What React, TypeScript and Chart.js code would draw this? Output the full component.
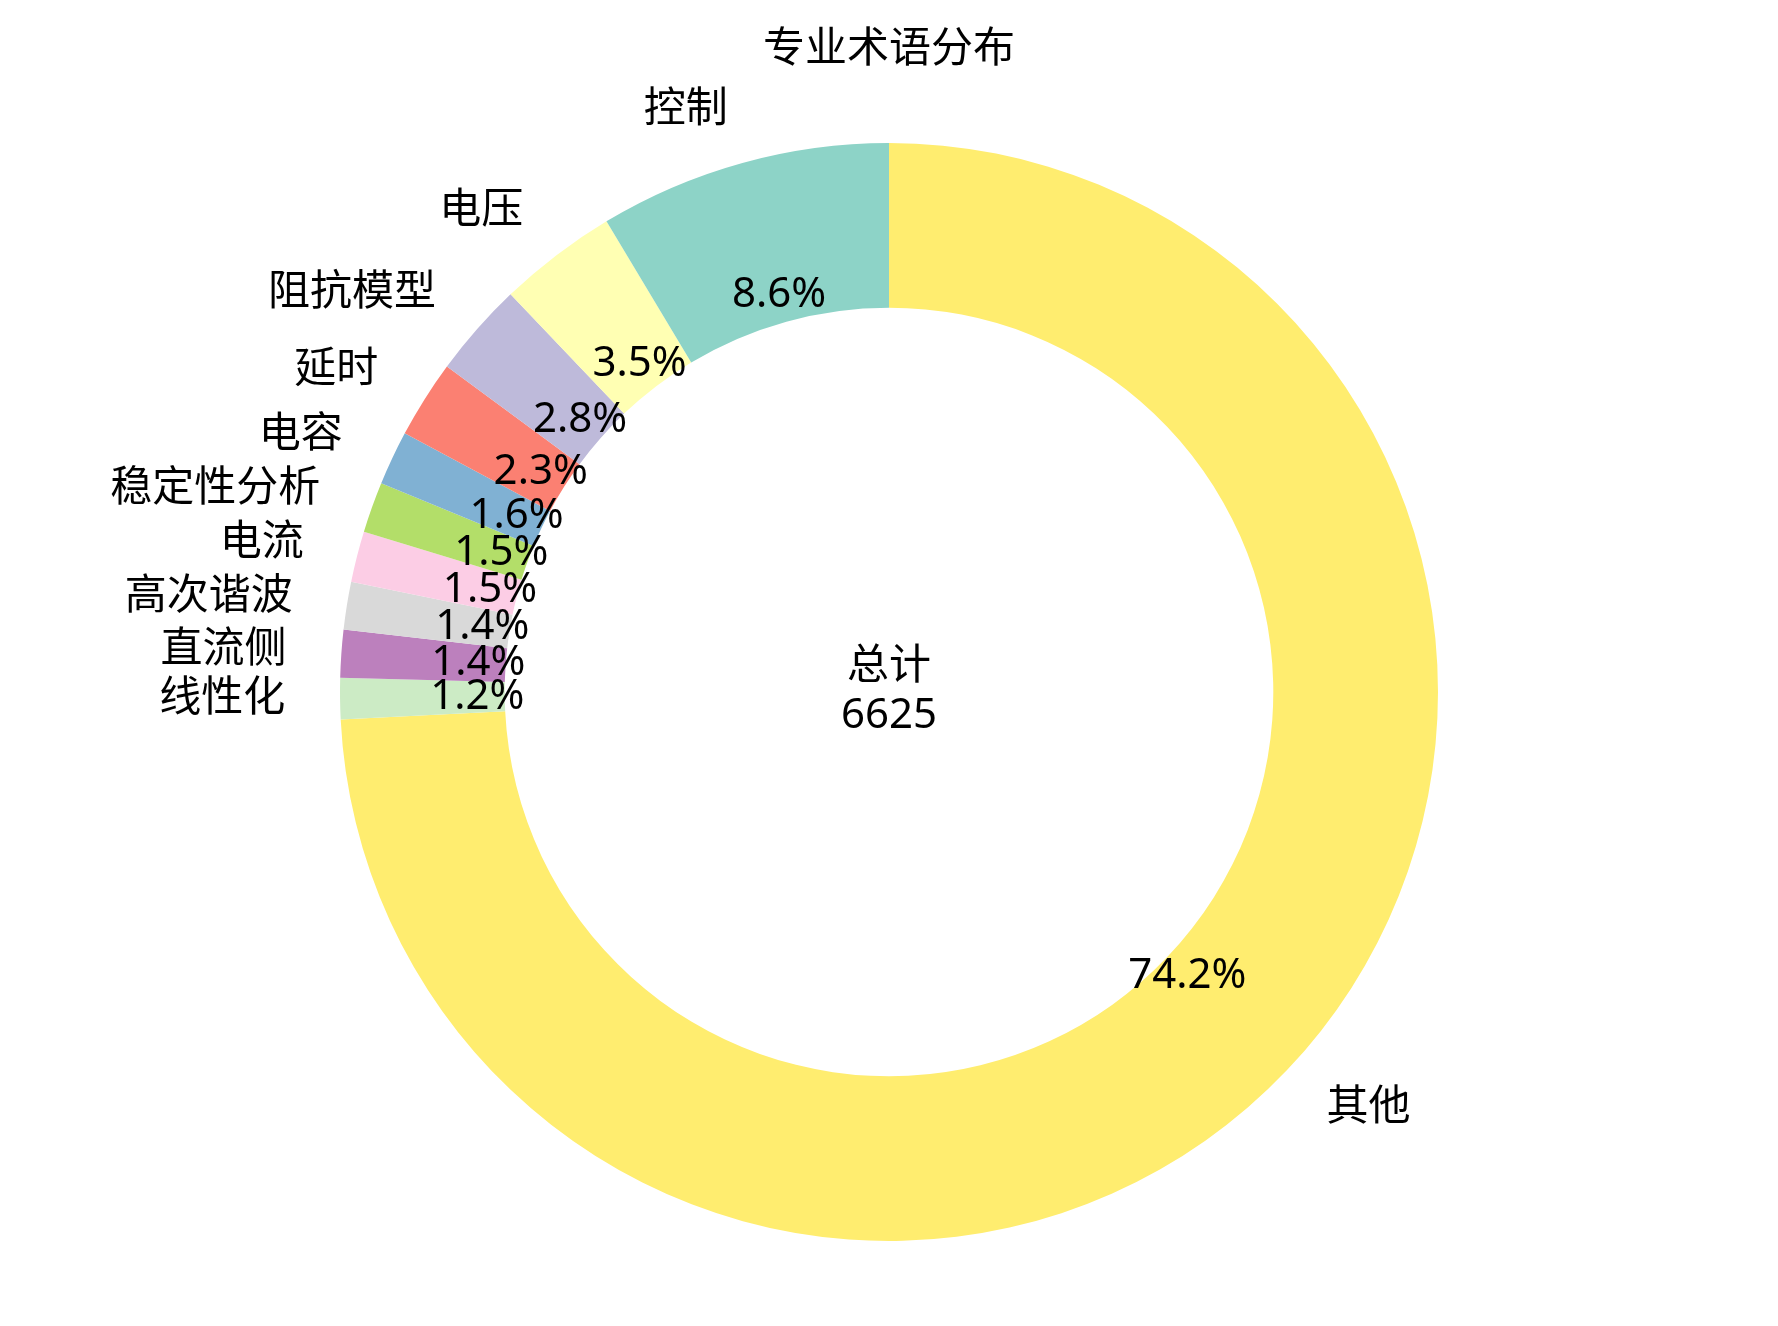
import { useEffect, useRef } from "react";
import { Chart, registerables, Plugin } from "chart.js";

Chart.register(...registerables);

// matplotlib order: counter-clockwise from the top
const terms = ["控制", "电压", "阻抗模型", "延时", "电容", "稳定性分析", "电流", "高次谐波", "直流侧", "线性化", "其他"];
const counts = [570, 232, 185, 152, 106, 99, 99, 93, 93, 80, 4916];
const colors = [
  "#8dd3c7",
  "#ffffb3",
  "#bebada",
  "#fb8072",
  "#80b1d3",
  "#b3de69",
  "#fccde5",
  "#d9d9d9",
  "#bc80bd",
  "#ccebc5",
  "#ffed6f",
];
const title = "专业术语分布";
const centerLabel = "总计";

const FONT = '"Noto Sans", "Noto Sans CJK SC", sans-serif';
const FONT_SIZE = 42;

const labelPlugin: Plugin<"doughnut"> = {
  id: "pieLabels",
  afterDraw(chart) {
    const ctx = chart.ctx;
    const meta = chart.getDatasetMeta(0);
    const data = chart.data.datasets[0].data as number[];
    const labels = chart.data.labels as string[];
    const total = data.reduce((a, b) => a + b, 0);
    ctx.save();
    ctx.fillStyle = "#000";
    ctx.font = `${FONT_SIZE}px ${FONT}`;
    ctx.textBaseline = "middle";
    let cx = 0;
    let cy = 0;
    meta.data.forEach((el: any, i: number) => {
      const { x, y, startAngle, endAngle, outerRadius } = el.getProps(
        ["x", "y", "startAngle", "endAngle", "outerRadius"],
        true
      );
      cx = x;
      cy = y;
      const mid = (startAngle + endAngle) / 2;
      const c = Math.cos(mid);
      const s = Math.sin(mid);
      // category label outside the ring
      const lx = x + outerRadius * 1.1 * c;
      const ly = y + outerRadius * 1.1 * s;
      ctx.textAlign = Math.abs(c) < 1e-6 ? "center" : c < 0 ? "right" : "left";
      ctx.fillText(labels[i], lx, ly);
      // percentage inside the ring
      const px = x + outerRadius * 0.75 * c;
      const py = y + outerRadius * 0.75 * s;
      ctx.textAlign = "center";
      ctx.fillText(((data[i] / total) * 100).toFixed(1) + "%", px, py);
    });
    // centre text
    ctx.textAlign = "center";
    ctx.fillText(centerLabel, cx, cy - 25);
    ctx.fillText(String(total), cx, cy + 24);
    // title
    ctx.fillText(title, cx, 50);
    ctx.restore();
  },
};

const App: React.FC = () => {
  const canvasRef = useRef<HTMLCanvasElement | null>(null);

  useEffect(() => {
    const canvas = canvasRef.current;
    let chart: Chart<"doughnut"> | null = null;
    if (canvas) {
      Chart.getChart(canvas)?.destroy();
      // Chart.js runs clockwise, so reverse to mimic matplotlib's counter-clockwise order
      const order = terms.map((_, i) => terms.length - 1 - i);
      chart = new Chart(canvas, {
        type: "doughnut",
        data: {
          labels: order.map((i) => terms[i]),
          datasets: [
            {
              data: order.map((i) => counts[i]),
              backgroundColor: order.map((i) => colors[i]),
              borderWidth: 0,
            },
          ],
        },
        options: {
          animation: false,
          responsive: true,
          maintainAspectRatio: false,
          cutout: "70%",
          rotation: 0,
          layout: { padding: { left: 340, right: 340, top: 143, bottom: 85 } },
          plugins: {
            legend: { display: false },
            tooltip: { enabled: false },
          },
        },
        plugins: [labelPlugin],
      });
    }
    return () => {
      if (chart) chart.destroy();
    };
  }, []);

  return (
    <div style={{ position: "absolute", left: 0, top: 0, width: 1778, height: 1326, background: "#fff" }}>
      <canvas ref={canvasRef}></canvas>
    </div>
  );
};

export default App;
